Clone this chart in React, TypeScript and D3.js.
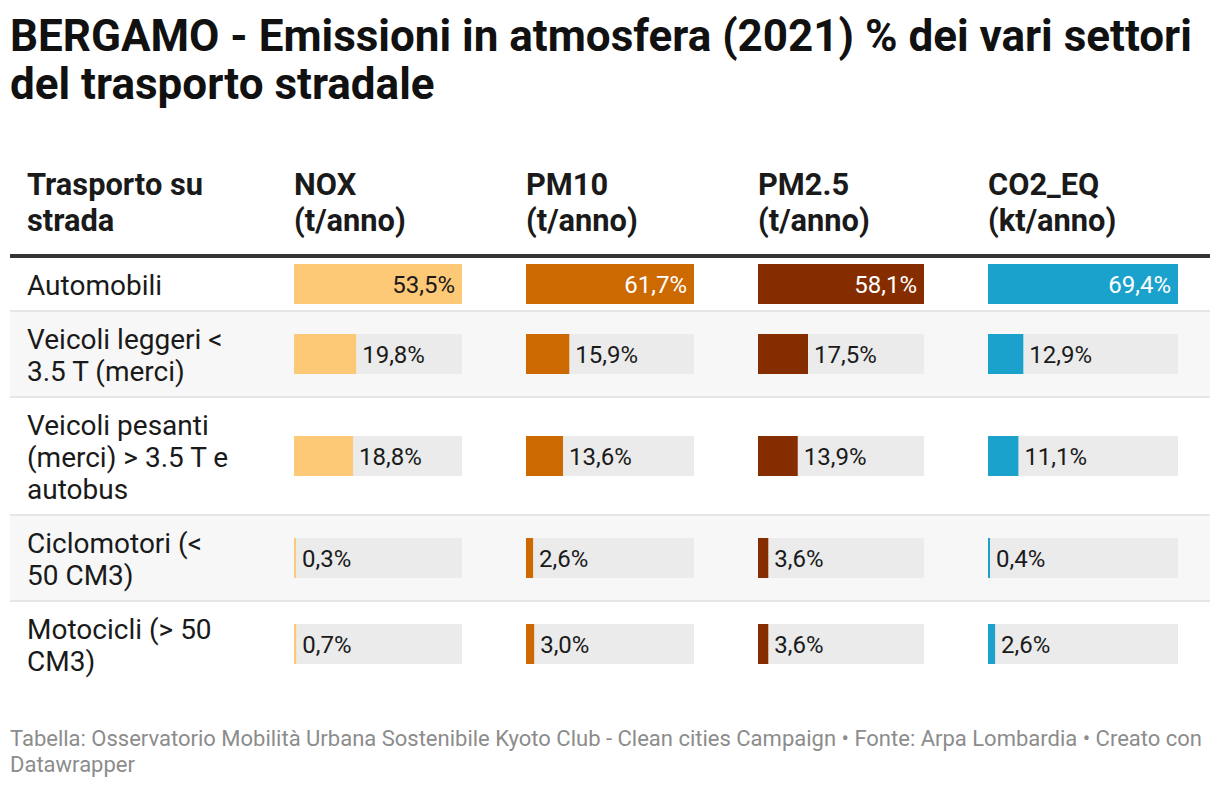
import React, { useRef, useEffect } from "react"
import * as d3 from "d3"

const title = [
  "BERGAMO - Emissioni in atmosfera (2021) % dei vari settori",
  "del trasporto stradale",
]

const categories = [
  "Automobili",
  "Veicoli leggeri <\n3.5 T (merci)",
  "Veicoli pesanti\n(merci) > 3.5 T e\nautobus",
  "Ciclomotori (<\n50 CM3)",
  "Motocicli (> 50\nCM3)",
]

const firstHeader = ["Trasporto su", "strada"]
const seriesNames = ["NOX", "PM10", "PM2.5", "CO2_EQ"]
const seriesUnits = ["(t/anno)", "(t/anno)", "(t/anno)", "(kt/anno)"]
const seriesColors = ["#fec977", "#cc6900", "#862d00", "#1aa2cd"]
const seriesDark = [false, true, true, true]

const nox = [53.5, 19.8, 18.8, 0.3, 0.7]
const pm10 = [61.7, 15.9, 13.6, 2.6, 3.0]
const pm25 = [58.1, 17.5, 13.9, 3.6, 3.6]
const co2 = [69.4, 12.9, 11.1, 0.4, 2.6]

const footer = [
  "Tabella: Osservatorio Mobilità Urbana Sostenibile Kyoto Club - Clean cities Campaign • Fonte: Arpa Lombardia • Creato con",
  "Datawrapper",
]

const W = 1220
const H = 788
const FONT = "Roboto, 'Noto Sans', sans-serif"

// column boxes (left, width) of the bar cells
const colX = [294, 526, 758, 988]
const colW = [168, 168, 166, 190]

const App: React.FC = () => {
  const svgRef = useRef<SVGSVGElement>(null)

  useEffect(() => {
    document.body.style.margin = "0"
    if (!svgRef.current) return
    const svg = d3.select(svgRef.current)
    svg.selectAll("*").remove()
    svg.append("rect").attr("width", W).attr("height", H).attr("fill", "#fff")

    const series = [nox, pm10, pm25, co2]
    const fmt = d3.formatLocale({
      decimal: ",",
      thousands: ".",
      grouping: [3],
      currency: ["", "€"],
    }).format(".1f")

    // title
    svg
      .append("g")
      .selectAll("text")
      .data(title)
      .enter()
      .append("text")
      .attr("x", 10)
      .attr("y", (_, i) => 51 + i * 48)
      .attr("font-family", FONT)
      .attr("font-weight", 700)
      .attr("font-size", "44px")
      .attr("fill", "#111")
      .text((d) => d)

    // header
    const head = svg.append("g").attr("font-family", FONT).attr("font-weight", 700).attr("font-size", "30.8px").attr("fill", "#1a1a1a")
    const headCols = [
      { x: 27, lines: firstHeader },
      ...seriesNames.map((n, i) => ({ x: colX[i], lines: [n, seriesUnits[i]] })),
    ]
    headCols.forEach((c) => {
      c.lines.forEach((l, j) => {
        head.append("text").attr("x", c.x).attr("y", 195 + j * 36).text(l)
      })
    })
    svg.append("rect").attr("x", 10).attr("y", 254).attr("width", 1200).attr("height", 4).attr("fill", "#333")

    // rows
    const lineH = 32
    let top = 258
    const rows = categories.map((c, i) => {
      const lines = c.split("\n")
      const h = 20 + lines.length * lineH
      const r = { i, lines, top, h }
      top += h + 2
      return r
    })

    const body = svg.append("g")
    rows.forEach((r) => {
      if (r.i % 2 === 1) {
        body.append("rect").attr("x", 10).attr("y", r.top).attr("width", 1200).attr("height", r.h).attr("fill", "#f7f7f7")
      }
      if (r.i < rows.length - 1) {
        body.append("rect").attr("x", 10).attr("y", r.top + r.h).attr("width", 1200).attr("height", 2).attr("fill", "#e6e6e6")
      }
      r.lines.forEach((l, j) => {
        body
          .append("text")
          .attr("x", 27)
          .attr("y", r.top + 37 + j * lineH)
          .attr("font-family", FONT)
          .attr("font-size", "28px")
          .attr("fill", "#1a1a1a")
          .text(l)
      })
    })

    series.forEach((vals, s) => {
      const x = d3.scaleLinear().domain([0, d3.max(vals)!]).range([0, colW[s]])
      const g = body.append("g").attr("transform", `translate(${colX[s]},0)`)
      rows.forEach((r) => {
        const v = vals[r.i]
        const cy = r.top + r.h / 2
        const w = Math.max(x(v), 2)
        const full = v === d3.max(vals)
        g.append("rect").attr("x", 0).attr("y", cy - 20).attr("width", colW[s]).attr("height", 40).attr("fill", "#ebebeb")
        g.append("rect").attr("x", 0).attr("y", cy - 20).attr("width", w).attr("height", 40).attr("fill", seriesColors[s])
        g.append("text")
          .attr("x", full ? w - 7 : w + 6)
          .attr("y", cy + 8.5)
          .attr("text-anchor", full ? "end" : "start")
          .attr("font-family", FONT)
          .attr("font-size", "24px")
          .attr("fill", full && seriesDark[s] ? "#fff" : "#1a1a1a")
          .text(fmt(v) + "%")
      })
    })

    // footer
    svg
      .append("g")
      .selectAll("text")
      .data(footer)
      .enter()
      .append("text")
      .attr("x", 10)
      .attr("y", (_, i) => 746 + i * 26)
      .attr("font-family", FONT)
      .attr("font-size", "22px")
      .attr("fill", "#8c8c8c")
      .text((d) => d)
  }, [])

  return <svg ref={svgRef} width={W} height={H} style={{ display: "block" }} />
}

export default App
